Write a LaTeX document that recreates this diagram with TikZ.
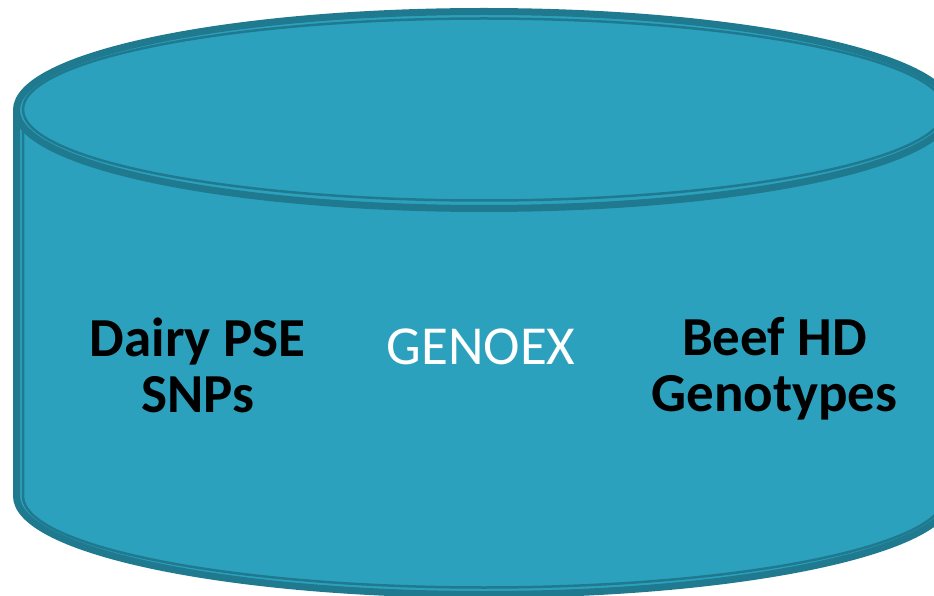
\documentclass[tikz,border=0pt]{standalone}
\usepackage{fontspec}
\setmainfont{Carlito}
\definecolor{cylfill}{RGB}{44,161,190}
\definecolor{cyledge}{RGB}{31,122,143}
\begin{document}
\begin{tikzpicture}[x=1pt,y=1pt,
  outerband/.style={draw=cyledge,line width=7pt},
  innerline/.style={draw=cyledge,line width=2.5pt},
  sidetext/.style={font=\bfseries\fontsize{55}{56}\selectfont,text=black,align=center,inner sep=0pt},
  midtext/.style={font=\fontsize{55}{56}\selectfont,text=white,inner sep=0pt}]
\useasboundingbox (0,0) rectangle (934,595);
\clip (0,0) rectangle (934,595);
% body fill
\fill[cylfill] (16.5,485) -- (16.5,99) arc[start angle=180,end angle=360,x radius=467.5,y radius=98.5] -- (951.5,485) -- cycle;
\fill[cylfill] (484,485) ellipse[x radius=467.5,y radius=98.5];
% body outline
\draw[outerband] (16.5,485) -- (16.5,99) arc[start angle=180,end angle=360,x radius=467.5,y radius=98.5] -- (951.5,485);
\draw[innerline] (23,485) -- (23,99) arc[start angle=180,end angle=360,x radius=461,y radius=91.5] -- (945,485);
% top ellipse
\fill[cylfill] (484,485) ellipse[x radius=467.5,y radius=98.5];
\draw[outerband] (484,485) ellipse[x radius=467.5,y radius=98.5];
\draw[innerline] (484,485.5) ellipse[x radius=461,y radius=91];
% texts
\node[sidetext] (dairy) at (197.5,230) {Dairy PSE\\SNPs};
\node[midtext] (genoex) at (481,248) {GENOEX};
\node[sidetext] (beef) at (774.5,226) {Beef HD\\Genotypes};
\end{tikzpicture}
\end{document}
